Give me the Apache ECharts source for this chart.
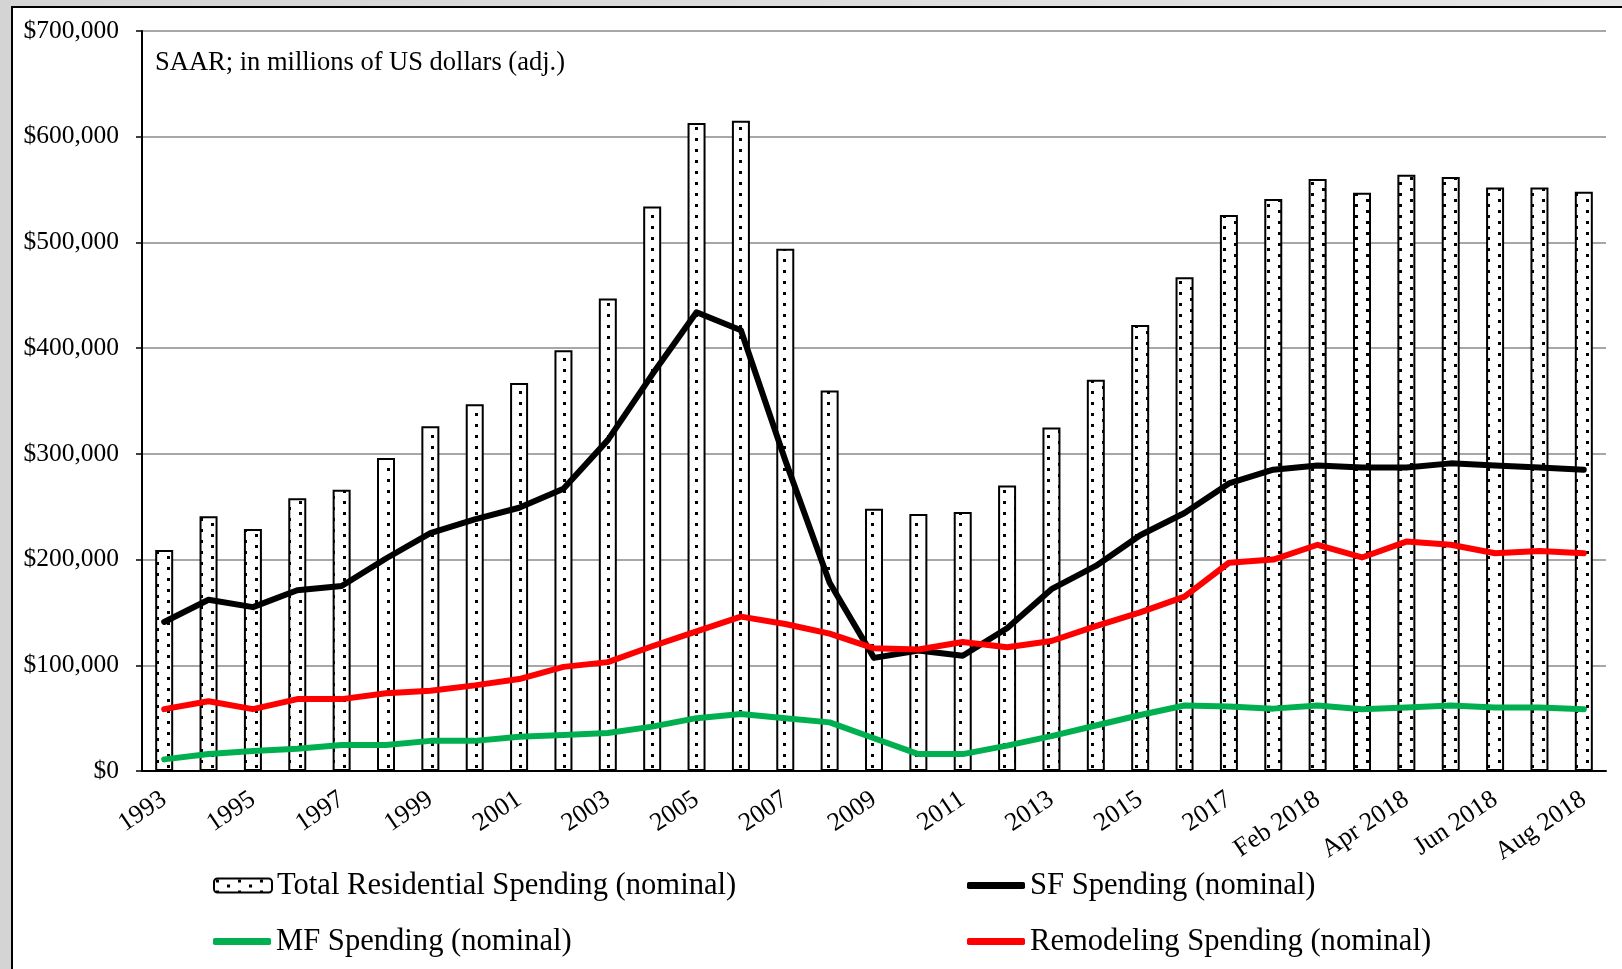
<!DOCTYPE html>
<html>
<head>
<meta charset="utf-8">
<script src="https://cdn.jsdelivr.net/npm/echarts@6/dist/echarts.min.js"></script>
<style>
  html, body { margin:0; padding:0; width:1622px; height:969px; overflow:hidden;
    background: linear-gradient(90deg, #d4d4d4 0%, #e6e6e6 100%); }
  #frame { position:absolute; left:11px; top:6px; width:1640px; height:1000px;
    border:2px solid #000; background:#fff; }
  #chart { position:absolute; left:0; top:0; width:1622px; height:969px; }
</style>
</head>
<body>
<div id="frame"></div>
<div id="chart"></div>
<script>
const categories = ['1993','1994','1995','1996','1997','1998','1999','2000','2001','2002','2003','2004','2005','2006','2007','2008','2009','2010','2011','2012','2013','2014','2015','2016','2017','Jan 2018','Feb 2018','Mar 2018','Apr 2018','May 2018','Jun 2018','Jul 2018','Aug 2018'];

const totalResidential = [209000,241000,229000,258000,266000,296000,326000,347000,367000,398000,447000,534000,613000,615000,494000,360000,248000,243000,245000,270000,325000,370000,422000,467000,526000,541000,560000,547000,564000,562000,552000,552000,548000];

const sfSpending = [141000,162000,155000,171000,175000,201000,225000,238000,249000,267000,313000,375000,434000,417000,294000,178000,107000,114000,109000,135000,172000,194000,223000,244000,272000,285000,289000,287000,287000,291000,289000,287000,285000];

const remodelingSpending = [58500,66000,58500,68000,68000,73500,76000,81000,87000,98500,103000,118000,132000,146000,139000,130000,116000,115000,122000,117000,123000,137000,150000,165000,197000,200000,214000,202000,217000,214000,206000,208000,206000];

const mfSpending = [11000,16000,19000,21000,24500,24500,28500,28500,32500,34000,36000,42000,50000,54000,50000,46000,31000,16000,16000,24000,33000,43000,53000,62000,61000,59000,62000,58500,60000,62000,60000,60000,58500];

const yTicks = { min: 0, max: 700000, interval: 100000 };

const seriesNames = ['Total Residential Spending (nominal)','SF Spending (nominal)','MF Spending (nominal)','Remodeling Spending (nominal)'];

// dotted fill pattern
const pc = document.createElement('canvas');
pc.width = 22; pc.height = 11;
const pctx = pc.getContext('2d');
pctx.fillStyle = '#fff'; pctx.fillRect(0,0,22,11);
pctx.fillStyle = '#000';
pctx.fillRect(2,1,3,3);
pctx.fillRect(13,6,3,3);

const FONT = 'Liberation Serif';
const chart = echarts.init(document.getElementById('chart'), null, {renderer:'canvas'});

function legendAt(name, left, top, isLine) {
  return {
    data:[isLine ? {name:name, icon:'roundRect'} : name],
    left:left, top:top, itemWidth:58, itemHeight:isLine ? 7 : 14, itemGap:0,
    textStyle:{fontFamily:FONT, fontSize:30.6, color:'#000'},
    selectedMode:false
  };
}

chart.setOption({
  animation:false,
  backgroundColor:'transparent',
  title:{
    text:'SAAR; in millions of US dollars (adj.)',
    left:150, top:45,
    textStyle:{fontFamily:FONT, fontSize:26.5, fontWeight:'normal', color:'#000'}
  },
  legend:[
    legendAt(seriesNames[0], 208, 865, false),
    legendAt(seriesNames[1], 962, 865, true),
    legendAt(seriesNames[2], 208, 921, true),
    legendAt(seriesNames[3], 962, 921, true)
  ],
  grid:{left:142, right:16, top:31, bottom:198, containLabel:false},
  xAxis:{
    type:'category', data:categories, boundaryGap:true,
    axisLine:{show:true, lineStyle:{color:'#000', width:2}},
    axisTick:{show:false},
    axisLabel:{interval:1, rotate:34, margin:26, fontFamily:FONT, fontSize:26, color:'#000'}
  },
  yAxis:{
    type:'value', min:yTicks.min, max:yTicks.max, interval:yTicks.interval,
    axisLine:{show:true, lineStyle:{color:'#000', width:2}},
    axisTick:{show:true, length:6, lineStyle:{color:'#000', width:1.5}},
    splitLine:{show:true, lineStyle:{color:'#8a8a8a', width:1.6}},
    axisLabel:{margin:23, fontFamily:FONT, fontSize:25.5, color:'#000',
      formatter:v => '$' + v.toLocaleString('en-US')}
  },
  series:[
    {
      name:seriesNames[0], type:'bar', data:totalResidential, barWidth:18,
      itemStyle:{color:{image:pc, repeat:'repeat'}, borderColor:'#000', borderWidth:2},
      z:1
    },
    {
      name:seriesNames[1], type:'line', data:sfSpending, symbol:'none',
      lineStyle:{color:'#000', width:6, cap:'round', join:'round'}, itemStyle:{color:'#000'}, z:3
    },
    {
      name:seriesNames[2], type:'line', data:mfSpending, symbol:'none',
      lineStyle:{color:'#00b050', width:6, cap:'round', join:'round'}, itemStyle:{color:'#00b050'}, z:3
    },
    {
      name:seriesNames[3], type:'line', data:remodelingSpending, symbol:'none',
      lineStyle:{color:'#ff0000', width:6, cap:'round', join:'round'}, itemStyle:{color:'#ff0000'}, z:3
    }
  ]
});
</script>
</body>
</html>
